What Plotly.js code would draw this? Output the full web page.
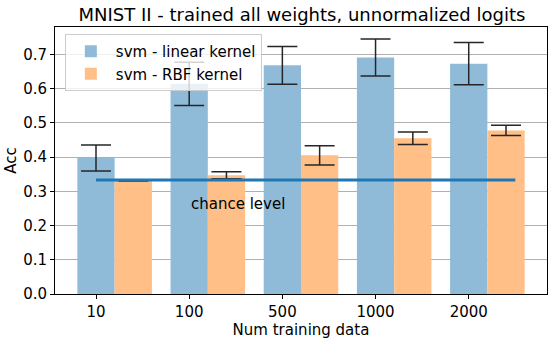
<!DOCTYPE html>
<html>
<head>
<meta charset="utf-8">
<script src="https://cdn.plot.ly/plotly-3.0.1.min.js"></script>
<style>html,body{margin:0;padding:0;background:#fff;}#chart{width:554px;height:341px;}</style>
</head>
<body>
<div id="chart"></div>
<script>
const categories = ["10", "100", "500", "1000", "2000"];
const linearAcc = [0.397, 0.614, 0.668, 0.691, 0.673];
const linearErr = [0.038, 0.063, 0.055, 0.054, 0.062];
const rbfAcc = [0.330, 0.347, 0.405, 0.455, 0.478];
const rbfErr = [0.0, 0.010, 0.028, 0.018, 0.015];
const chanceLevel = 0.333;
const chanceX = [0, 4.5];

const pos = categories.map((c, i) => i);
const F = "DejaVu Sans, sans-serif";
const errStyle = {type: "data", visible: true, color: "#262626", thickness: 1.5, width: 15};

const traces = [
  {type: "bar", name: "svm - linear kernel", x: pos, y: linearAcc, width: 0.4,
   marker: {color: "#8fbbd9", line: {width: 0}},
   error_y: Object.assign({array: linearErr}, errStyle)},
  {type: "bar", name: "svm - RBF kernel", x: pos.map(p => p + 0.4), y: rbfAcc, width: 0.4,
   marker: {color: "#ffbf86", line: {width: 0}},
   error_y: Object.assign({array: rbfErr}, errStyle)},
  {type: "scatter", mode: "lines", x: chanceX, y: [chanceLevel, chanceLevel],
   line: {color: "#1f77b4", width: 3}, showlegend: false, hoverinfo: "skip"}
];

const layout = {
  width: 554, height: 341,
  margin: {l: 55, r: 7, t: 27, b: 47, pad: 0},
  paper_bgcolor: "#fff", plot_bgcolor: "#fff",
  font: {family: F, size: 15, color: "#000"},
  barmode: "overlay",
  title: {text: "MNIST II - trained all weights, unnormalized logits", font: {family: F, size: 18, color: "#000"},
          x: 0.545, xanchor: "center", y: 0.958, yanchor: "middle", yref: "container"},
  xaxis: {range: [-0.44, 4.84], tickmode: "array", tickvals: pos, ticktext: categories,
          showgrid: false, zeroline: false, showline: true, mirror: true, linecolor: "#000", linewidth: 1,
          ticks: "outside", ticklen: 4, tickcolor: "#000", tickfont: {size: 15},
          title: {text: "Num training data", font: {size: 15}, standoff: 3}},
  yaxis: {range: [0, 0.78], tickmode: "array", tickvals: [0,0.1,0.2,0.3,0.4,0.5,0.6,0.7],
          ticktext: ["0.0","0.1","0.2","0.3","0.4","0.5","0.6","0.7"],
          showgrid: true, gridcolor: "#b0b0b0", gridwidth: 1, zeroline: false,
          showline: true, mirror: true, linecolor: "#000", linewidth: 1,
          ticks: "outside", ticklen: 4, tickcolor: "#000", tickfont: {size: 15},
          automargin: true,
          title: {text: "Acc", font: {size: 15}, standoff: 2}},
  legend: {x: 0.02, y: 0.974, xanchor: "left", yanchor: "top",
           bgcolor: "rgba(255,255,255,0.8)", bordercolor: "#cccccc", borderwidth: 1,
           font: {size: 15, color: "#000"}, itemwidth: 40, tracegroupgap: 0},
  annotations: [{x: 1, y: 0.262, xref: "x", yref: "y", text: "chance level", showarrow: false,
                 xanchor: "left", yanchor: "middle", font: {size: 15, color: "#000"}}],
  showlegend: true
};

Plotly.newPlot("chart", traces, layout, {displayModeBar: false, staticPlot: true});
</script>
</body>
</html>
